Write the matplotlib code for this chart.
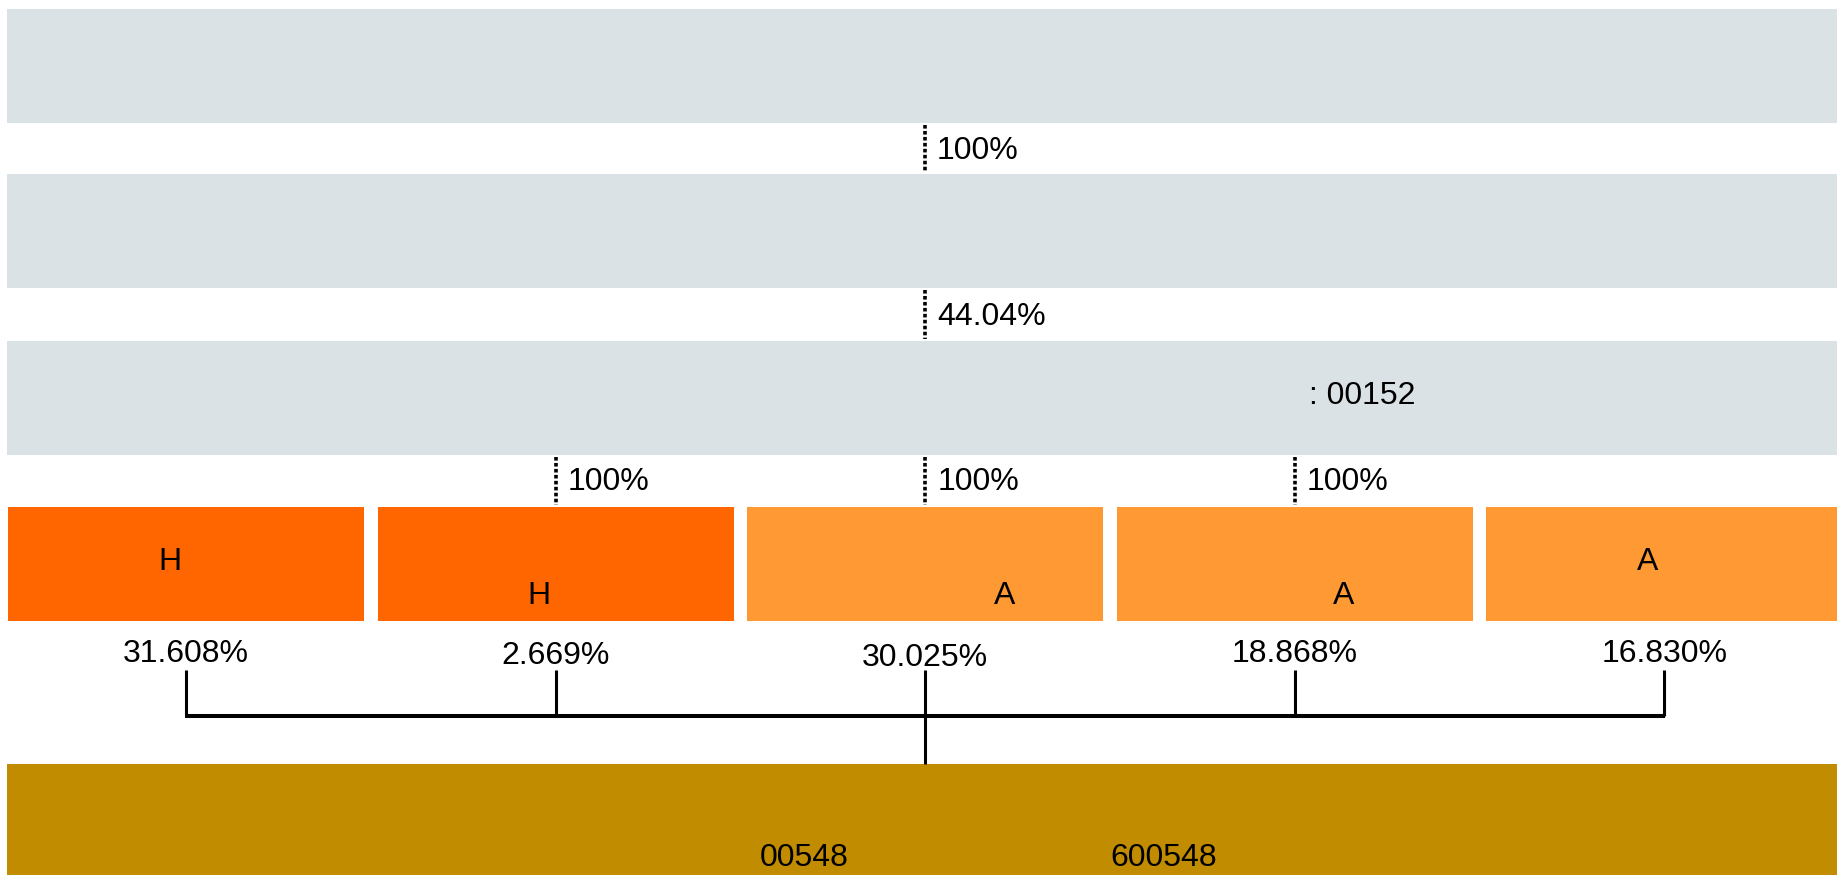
import matplotlib
matplotlib.use("Agg")
import matplotlib.pyplot as plt

plt.rcParams['font.family'] = ['Liberation Sans', 'DejaVu Sans']

# ---------------- data ----------------
top_entity_labels = ["", "", ": 00152"]          # three grey parent layers
upper_link_pcts = ["100%", "44.04%"]             # links between grey layers
holder_labels = ["H", "H", "A", "A", "A"]        # direct shareholders
holder_kinds = ["H", "H", "A", "A", "A"]
holder_shares = [31.608, 2.669, 30.025, 18.868, 16.830]
holder_parent_links = ["", "100%", "100%", "100%", ""]
company_codes = ["00548", "600548"]

# ---------------- styles ----------------
GREY = "#dbe2e6"
KIND_COLORS = {"H": "#ff6600", "A": "#ff9933"}
GOLD = "#c18c00"
FS = 23
BASE = 11.5   # half digit height -> baseline from ink centre

W, H = 1837, 875
fig = plt.figure(figsize=(W / 100, H / 100), dpi=100)
ax = fig.add_axes([0, 0, 1, 1])
ax.set_xlim(0, W)
ax.set_ylim(H, 0)
ax.axis("off")

box_h = 114
grey_tops = [9, 174, 341]
holder_top = 507
gold_top = 764
center_x = 925

# grey parent layers
for top, lab in zip(grey_tops, top_entity_labels):
    ax.barh(top + box_h / 2, W + 10, left=7, height=box_h, color=GREY, linewidth=0)
    if lab:
        ax.text(1309, top + box_h / 2 - 5 + BASE, lab, fontsize=FS, ha="left", va="baseline")

# dotted links between grey layers
dot_style = dict(color="black", lw=2.6, linestyle=(0, (1.0, 0.65)))
for i, pct in enumerate(upper_link_pcts):
    y0 = grey_tops[i] + box_h
    y1 = grey_tops[i + 1]
    ax.plot([center_x, center_x], [y0 + 2, y1 - 2], **dot_style)
    ax.text(center_x + 12, (y0 + y1) / 2 - 1 + BASE, pct, fontsize=FS, ha="left", va="baseline")

# holder boxes
step = 369.6
bw = 356
centers = []
text_offsets = [-6, 29, 29, 29, -6]
text_dx = [-16, -17, 79, 49, -17]
pct_dy = [0, 1, 3, 0, 0]
for i, (lab, kind, share, link) in enumerate(zip(holder_labels, holder_kinds, holder_shares, holder_parent_links)):
    left = 8 + i * step
    cx = left + bw / 2
    centers.append(cx)
    ax.barh(holder_top + box_h / 2, bw, left=left, height=box_h,
            color=KIND_COLORS[kind], linewidth=0)
    ax.text(cx + text_dx[i], holder_top + box_h / 2 + text_offsets[i] + BASE, lab,
            fontsize=FS, ha="center", va="baseline")
    ax.text(cx, 651 + pct_dy[i] + BASE, f"{share:.3f}%", fontsize=FS, ha="center", va="baseline")
    if link:
        y0 = grey_tops[-1] + box_h
        ax.plot([cx, cx], [y0 + 2, holder_top - 2], **dot_style)
        ax.text(cx + 12, (y0 + holder_top) / 2 - 3 + BASE, link, fontsize=FS, ha="left", va="baseline")

# bracket connecting holders to company
bar_y = 715.5
for cx in centers:
    ax.plot([cx, cx], [670, bar_y], color="black", lw=2.2, solid_capstyle="butt")
ax.plot([centers[0] - 1, centers[-1] + 1], [bar_y, bar_y], color="black", lw=2.9, solid_capstyle="butt")
ax.plot([center_x, center_x], [bar_y, gold_top], color="black", lw=2.2, solid_capstyle="butt")

# company box
ax.barh(gold_top + box_h / 2, W + 10, left=7, height=box_h, color=GOLD, linewidth=0)
ax.text(804, 854 + BASE, company_codes[0], fontsize=FS, ha="center", va="baseline")
ax.text(1164, 854 + BASE, company_codes[1], fontsize=FS, ha="center", va="baseline")

fig.savefig("out.png", dpi=100)
